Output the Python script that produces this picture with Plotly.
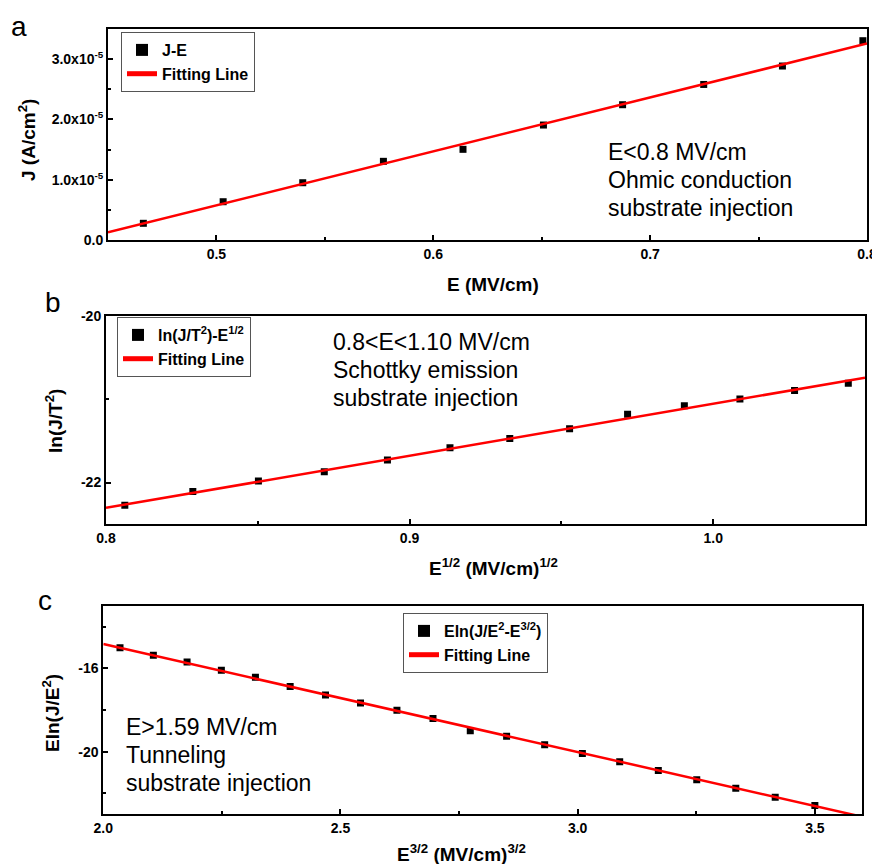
import plotly.graph_objects as go

# ---------------- data ----------------
# panel a : J-E (Ohmic)
a_E = [0.4663, 0.5031, 0.5398, 0.5770, 0.6137, 0.6508, 0.6873, 0.7247, 0.7610, 0.7981]
a_J = [0.277e-5, 0.635e-5, 0.950e-5, 1.305e-5, 1.504e-5, 1.907e-5, 2.244e-5, 2.580e-5, 2.886e-5, 3.306e-5]
a_fit_x = [0.45, 0.80]
a_fit_y = [0.127e-5, 3.26e-5]

# panel b : ln(J/T^2) vs E^1/2 (Schottky)
b_x = [0.8062, 0.8286, 0.8502, 0.8719, 0.8927, 0.9133, 0.9330, 0.9527, 0.9718, 0.9905, 1.0088, 1.0268, 1.0445]
b_y = [-22.271, -22.107, -21.981, -21.869, -21.730, -21.583, -21.471, -21.356, -21.181, -21.078, -20.998, -20.895, -20.811]
b_fit_x = [0.80, 1.05]
b_fit_y = [-22.303, -20.743]

# panel c : Eln(J/E^2) vs E^3/2 (Tunneling)
c_x = [2.0352, 2.1055, 2.1766, 2.2489, 2.3207, 2.3939, 2.4684, 2.5422, 2.6190, 2.6950,
       2.7736, 2.8502, 2.9304, 3.0099, 3.0886, 3.1700, 3.2510, 3.3333, 3.4164, 3.5000]
c_y = [-15.018, -15.371, -15.695, -16.097, -16.435, -16.871, -17.277, -17.664, -18.017, -18.404,
       -19.000, -19.260, -19.660, -20.080, -20.485, -20.906, -21.341, -21.757, -22.178, -22.580]
c_fit_x = [2.0, 3.6]
c_fit_y = [-14.84, -23.12]

a_ytick_vals = [0, 1e-5, 2e-5, 3e-5]
a_ytick_text = ["0.0", "1.0x10<sup>-5</sup>", "2.0x10<sup>-5</sup>", "3.0x10<sup>-5</sup>"]

# ---------------- figure ----------------
W, H = 880, 864
OFF = 8  # page body margin
FONT = "Arial, Liberation Sans, sans-serif"


def px_x(p):
    return (p - OFF) / W


def px_y(p):
    return 1 - (p - OFF) / H


fig = go.Figure()

series = [
    (a_E, a_J, a_fit_x, a_fit_y, "x", "y", "legend", "J-E"),
    (b_x, b_y, b_fit_x, b_fit_y, "x2", "y2", "legend2", "ln(J/T<sup>2</sup>)-E<sup>1/2</sup>"),
    (c_x, c_y, c_fit_x, c_fit_y, "x3", "y3", "legend3", "Eln(J/E<sup>2</sup>-E<sup>3/2</sup>)"),
]
for xs, ys, fx, fy, xa, ya, lg, name in series:
    fig.add_trace(go.Scatter(x=xs, y=ys, mode="markers", name=name, xaxis=xa, yaxis=ya, legend=lg,
                             marker=dict(symbol="square", size=7, color="black")))
    fig.add_trace(go.Scatter(x=fx, y=fy, mode="lines", name="Fitting Line", xaxis=xa, yaxis=ya, legend=lg,
                             line=dict(color="#ff0000", width=2.5)))

tickfont = dict(family=FONT, size=14, color="black", weight="bold")
common = dict(showline=True, linecolor="black", linewidth=2, mirror=True, ticks="inside",
              ticklen=5, tickwidth=1.5, tickcolor="black", showgrid=False, zeroline=False,
              tickfont=tickfont, automargin=False)

# plot-area rectangles in reference pixels
dom = {
    "a": ([108, 867], [29, 240]),
    "b": ([106, 865], [315.7, 524.3]),
    "c": ([103.3, 862.3], [605.7, 814.3]),
}


def xd(k):
    return [px_x(dom[k][0][0]), px_x(dom[k][0][1])]


def yd(k):
    return [px_y(dom[k][1][1]), px_y(dom[k][1][0])]


def minor(vals):
    return dict(tickvals=vals, ticks="inside", ticklen=3, tickcolor="black", tickwidth=1.5)


fig.update_layout(
    width=W, height=H, margin=dict(l=0, r=0, t=0, b=0, pad=0, autoexpand=False),
    paper_bgcolor="white", plot_bgcolor="white",
    font=dict(family=FONT, color="black"),
    xaxis=dict(domain=xd("a"), anchor="y", range=[0.45, 0.80], tickvals=[0.5, 0.6, 0.7, 0.8],
               ticktext=["0.5", "0.6", "0.7", "0.8"], minor=minor([0.55, 0.65, 0.75]), **common),
    yaxis=dict(domain=yd("a"), anchor="x", range=[0, 3.5e-5], tickvals=a_ytick_vals, ticktext=a_ytick_text,
               minor=minor([0.5e-5, 1.5e-5, 2.5e-5]), **common),
    xaxis2=dict(domain=xd("b"), anchor="y2", range=[0.8, 1.05], tickvals=[0.8, 0.9, 1.0],
                ticktext=["0.8", "0.9", "1.0"], minor=minor([0.85, 0.95]), **common),
    yaxis2=dict(domain=yd("b"), anchor="x2", range=[-22.5, -20], tickvals=[-22, -20], ticktext=["-22", "-20"],
                minor=minor([-21]), **common),
    xaxis3=dict(domain=xd("c"), anchor="y3", range=[2.0, 3.6], tickvals=[2.0, 2.5, 3.0, 3.5],
                ticktext=["2.0", "2.5", "3.0", "3.5"], minor=minor([2.25, 2.75, 3.25]), **common),
    yaxis3=dict(domain=yd("c"), anchor="x3", range=[-23, -13], tickvals=[-20, -16], ticktext=["-20", "-16"],
                minor=minor([-22, -18, -14]), **common),
)

legfont = dict(family=FONT, size=16, color="black", weight="bold")
legcommon = dict(xanchor="left", yanchor="top", bgcolor="white", bordercolor="#555555", borderwidth=1,
                 font=legfont, tracegroupgap=0, itemsizing="constant")
fig.update_layout(
    legend=dict(x=px_x(121), y=px_y(32), **legcommon),
    legend2=dict(x=px_x(117), y=px_y(317), **legcommon),
    legend3=dict(x=px_x(403), y=px_y(613), **legcommon),
)

annots = []
# panel letters
for txt, x, y in [("a", 19, 27), ("b", 53, 302), ("c", 45, 600)]:
    annots.append(dict(text=txt, x=px_x(x), y=px_y(y), xref="paper", yref="paper", showarrow=False,
                       xanchor="center", yanchor="middle", font=dict(family=FONT, size=28, color="black")))

# descriptive text
textfont = dict(family=FONT, size=23, color="black")
for lines, x, y0 in [
    (["E<0.8 MV/cm", "Ohmic conduction", "substrate injection"], 606, 151.7),
    (["0.8<E<1.10 MV/cm", "Schottky emission", "substrate injection"], 331, 341.7),
    (["E>1.59 MV/cm", "Tunneling", "substrate injection"], 124, 726.7),
]:
    for i, ln in enumerate(lines):
        annots.append(dict(text=ln, x=px_x(x), y=px_y(y0 + 28.2 * i), xref="paper", yref="paper",
                           showarrow=False, xanchor="left", yanchor="middle", font=textfont))

# axis titles
titlefont = dict(family=FONT, size=19, color="black", weight="bold")
for txt, x, y, ang in [
    ("J (A/cm<sup>2</sup>)", 27, 140, -90),
    ("E (MV/cm)", 493, 284, 0),
    ("ln(J/T<sup>2</sup>)", 54, 421, -90),
    ("E<sup>1/2</sup> (MV/cm)<sup>1/2</sup>", 493, 567, 0),
    ("Eln(J/E<sup>2</sup>)", 51, 713, -90),
    ("E<sup>3/2</sup> (MV/cm)<sup>3/2</sup>", 462, 853, 0),
]:
    annots.append(dict(text=txt, x=px_x(x), y=px_y(y), xref="paper", yref="paper", showarrow=False,
                       xanchor="center", yanchor="middle", textangle=ang, font=titlefont))

fig.update_layout(annotations=annots)

fig.write_html("out.html")
